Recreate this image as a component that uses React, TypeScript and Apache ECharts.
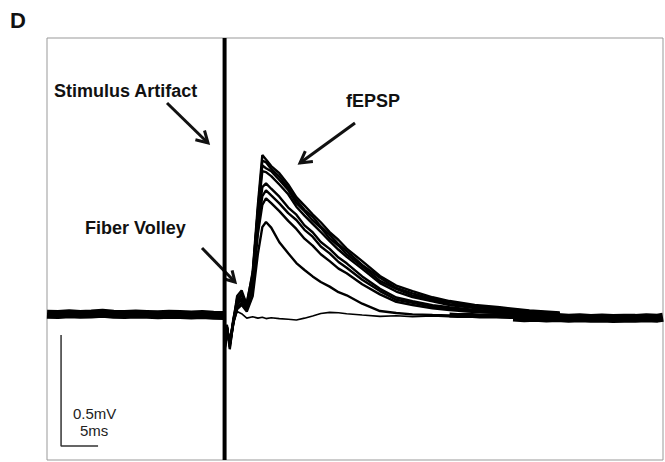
import React, { useEffect, useRef } from "react";
import * as echarts from "echarts";

// time (ms, relative to stimulus) and potential (mV)
const X_MIN = -24.0;
const X_MAX = 59.25;
const Y_MIN = -0.649;
const Y_MAX = 1.252;

const STIMULUS_MS = 0;

const TIME = [0, 0.3, 0.7, 1.2, 1.7, 2.3, 3.0, 3.8, 4.5, 5.1, 5.6, 6.3, 7.4, 8.6, 9.7, 10.8, 11.9, 13.0, 14.2, 15.4, 16.5, 18.6, 21.0, 23.2, 25.4, 28.1, 30.4, 33.8, 37.2, 41.2, 45.3];

const TRACE_A = [-0.16, -0.04, -0.15, -0.02, 0.09, 0.115, 0.05, 0.2, 0.5, 0.725, 0.705, 0.675, 0.643, 0.592, 0.535, 0.497, 0.458, 0.422, 0.378, 0.342, 0.303, 0.247, 0.18, 0.137, 0.112, 0.084, 0.067, 0.049, 0.039, 0.025, 0.016];
const TRACE_B = [-0.15, -0.05, -0.13, -0.01, 0.07, 0.1, 0.04, 0.18, 0.48, 0.7, 0.692, 0.662, 0.628, 0.577, 0.522, 0.478, 0.447, 0.403, 0.366, 0.323, 0.292, 0.23, 0.172, 0.126, 0.102, 0.077, 0.061, 0.044, 0.035, 0.021, 0.012];
const TRACE_C = [-0.16, -0.04, -0.14, -0.03, 0.08, 0.09, 0.06, 0.19, 0.47, 0.678, 0.665, 0.652, 0.613, 0.567, 0.508, 0.472, 0.43, 0.397, 0.35, 0.316, 0.278, 0.224, 0.158, 0.122, 0.092, 0.074, 0.053, 0.041, 0.029, 0.02, 0.009];
const TRACE_C2 = [-0.15, -0.05, -0.13, -0.02, 0.06, 0.1, 0.05, 0.17, 0.46, 0.652, 0.648, 0.63, 0.592, 0.548, 0.492, 0.452, 0.415, 0.378, 0.337, 0.298, 0.266, 0.212, 0.148, 0.11, 0.085, 0.066, 0.049, 0.036, 0.027, 0.017, 0.008];
const TRACE_D = [-0.15, -0.06, -0.12, -0.02, 0.05, 0.08, 0.04, 0.15, 0.42, 0.58, 0.597, 0.573, 0.537, 0.488, 0.456, 0.408, 0.377, 0.333, 0.302, 0.263, 0.237, 0.178, 0.122, 0.083, 0.066, 0.048, 0.039, 0.027, 0.021, 0.011, 0.005];
const TRACE_E = [-0.14, -0.05, -0.13, -0.03, 0.06, 0.07, 0.05, 0.14, 0.4, 0.54, 0.566, 0.543, 0.507, 0.463, 0.432, 0.388, 0.357, 0.313, 0.282, 0.243, 0.217, 0.163, 0.112, 0.073, 0.059, 0.041, 0.033, 0.021, 0.016, 0.007, 0.003];
const TRACE_F = [-0.15, -0.05, -0.12, -0.02, 0.04, 0.06, 0.03, 0.12, 0.37, 0.5, 0.53, 0.508, 0.472, 0.428, 0.392, 0.348, 0.317, 0.278, 0.247, 0.213, 0.192, 0.143, 0.097, 0.063, 0.049, 0.034, 0.027, 0.017, 0.013, 0.005, 0.0];
const TRACE_G = [-0.14, -0.05, -0.12, -0.03, 0.03, 0.05, 0.02, 0.09, 0.28, 0.4, 0.423, 0.398, 0.332, 0.282, 0.238, 0.207, 0.178, 0.153, 0.132, 0.107, 0.093, 0.055, 0.022, 0.013, 0.007, 0.004, 0.002, -0.002, 0.0, -0.004, -0.002];
const TRACE_H = [-0.15, -0.05, -0.12, -0.03, 0.02, 0.01, -0.01, -0.004, -0.01, -0.006, -0.012, -0.008, -0.012, -0.015, -0.018, -0.01, 0.0, 0.011, 0.016, 0.014, 0.01, 0.004, -0.002, 0.001, -0.003, 0.0, -0.004, -0.002, -0.005, -0.003, -0.006];

const RESPONSES = [TRACE_A, TRACE_B, TRACE_C, TRACE_C2, TRACE_D, TRACE_E, TRACE_F, TRACE_G];

// overlapped baseline noise band (pre-stimulus and after recovery)
const PRE_T = [-24, -22.5, -21, -19.5, -18, -16.5, -15, -13.5, -12, -10.5, -9, -7.5, -6, -4.5, -3, -1.5, -0.2];
const PRE_V = [0.008, 0.006, 0.01, 0.007, 0.009, 0.012, 0.008, 0.006, 0.009, 0.007, 0.005, 0.008, 0.006, 0.004, 0.006, 0.003, 0.002];
const MID_T = [30.4, 31.5, 33, 34.5, 36, 37.5, 39, 40.5];
const MID_V = [0.004, 0.002, 0.003, 0.0, 0.001, -0.002, -0.003, -0.005];
const POST_T = [39, 40.5, 42, 43.5, 45, 46.5, 48, 49.5, 51, 52.5, 54, 55.5, 57, 58.5, 59.25];
const POST_V = [-0.005, -0.008, -0.006, -0.009, -0.007, -0.01, -0.008, -0.011, -0.009, -0.012, -0.01, -0.011, -0.008, -0.01, -0.006];

// scale bar: 5 ms x 0.5 mV
const SCALE_T0 = -22.1;
const SCALE_V0 = -0.586;
const SCALE_MS = 5;
const SCALE_MV = 0.5;

const LABEL_FONT = 'bold 18px "Liberation Sans", Arial, Helvetica, sans-serif';
const SMALL_FONT = '15px "Liberation Sans", Arial, Helvetica, sans-serif';

function pairs(t: number[], v: number[]) {
  return t.map((x, i) => [x, v[i]]);
}

export default function App() {
  const ref = useRef<HTMLDivElement>(null);
  useEffect(() => {
    if (!ref.current) return;
    const chart = echarts.init(ref.current, undefined, { renderer: "svg" });
    const base = {
      type: "line" as const,
      showSymbol: false,
      symbol: "none",
      silent: true,
      animation: false,
    };
    const series: any[] = [];
    series.push({ ...base, data: pairs(PRE_T, PRE_V), lineStyle: { color: "#000", width: 9 }, z: 2 });
    series.push({ ...base, data: pairs(MID_T, MID_V), lineStyle: { color: "#000", width: 5 }, z: 2 });
    series.push({ ...base, data: pairs(POST_T, POST_V), lineStyle: { color: "#000", width: 9 }, z: 2 });
    RESPONSES.forEach((tr) => {
      series.push({ ...base, data: pairs(TIME, tr), lineStyle: { color: "#000", width: 2.4 }, z: 3 });
    });
    series.push({ ...base, data: pairs(TIME, TRACE_H), lineStyle: { color: "#000", width: 1.6 }, z: 3 });
    series.push({
      ...base,
      data: [[STIMULUS_MS, Y_MIN], [STIMULUS_MS, Y_MAX]],
      lineStyle: { color: "#000", width: 4 },
      z: 4,
    });
    series.push({
      ...base,
      data: [
        [SCALE_T0, SCALE_V0 + SCALE_MV],
        [SCALE_T0, SCALE_V0],
        [SCALE_T0 + SCALE_MS, SCALE_V0],
      ],
      lineStyle: { color: "#333", width: 1.5 },
      z: 4,
    });

    const stroke = { stroke: "#111", lineWidth: 3, fill: null as any, lineJoin: "miter" as const };
    const arrow = (x1: number, y1: number, x2: number, y2: number, w1: number[], w2: number[]) => [
      { type: "line", shape: { x1, y1, x2, y2 }, style: { ...stroke } },
      { type: "polyline", shape: { points: [w1, [x2, y2], w2] }, style: { ...stroke } },
    ];

    chart.setOption({
      animation: false,
      grid: {
        left: 47,
        top: 38,
        right: 2,
        bottom: 2,
        show: true,
        borderColor: "#999",
        borderWidth: 1,
        backgroundColor: "#fff",
      },
      xAxis: { type: "value", min: X_MIN, max: X_MAX, show: false },
      yAxis: { type: "value", min: Y_MIN, max: Y_MAX, show: false },
      series,
      graphic: [
        { type: "text", x: 10, y: 20, style: { text: "D", font: 'bold 22px "Liberation Sans", Arial, sans-serif', fill: "#111", verticalAlign: "middle" } },
        { type: "text", x: 54, y: 91, style: { text: "Stimulus Artifact", font: LABEL_FONT, fill: "#111", verticalAlign: "middle" } },
        { type: "text", x: 346, y: 101, style: { text: "fEPSP", font: LABEL_FONT, fill: "#111", verticalAlign: "middle" } },
        { type: "text", x: 85, y: 228, style: { text: "Fiber Volley", font: LABEL_FONT, fill: "#111", verticalAlign: "middle" } },
        { type: "text", x: 73, y: 413, style: { text: "0.5mV", font: SMALL_FONT, fill: "#222", verticalAlign: "middle" } },
        { type: "text", x: 80, y: 430, style: { text: "5ms", font: SMALL_FONT, fill: "#222", verticalAlign: "middle" } },
        ...arrow(167, 103, 208, 143, [204.5, 130.5], [195.4, 139.8]),
        ...arrow(355, 123, 300, 163, [312.9, 161.6], [305.3, 151.1]),
        ...arrow(202, 248, 235, 282, [232.1, 270.4], [223.5, 278.7]),
      ],
    });
    return () => chart.dispose();
  }, []);
  return (
    <div
      ref={ref}
      style={{ position: "absolute", left: 0, top: 0, width: 665, height: 462, background: "#fff" }}
    />
  );
}
